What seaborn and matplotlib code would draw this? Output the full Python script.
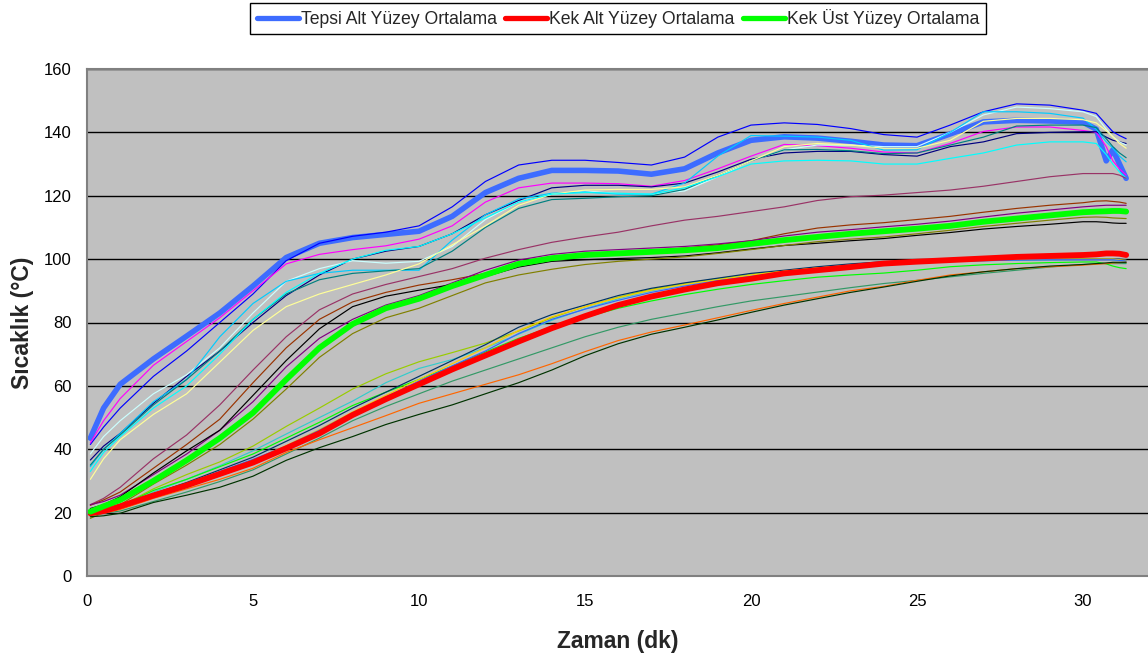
import matplotlib
matplotlib.use("Agg")
import matplotlib.pyplot as plt
import pandas as pd
import seaborn as sns
from matplotlib.lines import Line2D

# Sampling times (minutes)
minutes = [0.1, 0.5] + list(range(1, 31)) + [30.4, 30.7, 30.9, 31.1, 31.3]

# ---- Tray bottom surface (Tepsi alt yüzey) ----
tepsi_ort = [43.5, 53,
             60.5, 68.5, 75.7, 83, 91.5, 100.5, 105, 106.8, 107.8, 108.8,
             113.5, 121, 125.5, 128, 128, 127.8, 126.8, 128.5, 133.5, 137.5,
             138.6, 138.2, 137.2, 136, 135.8, 139.5, 143.3, 143.8, 143.6, 143.2,
             141, 131, 134.5, 130, 125.5]
tepsi_1 = [41.5, 47,
           53, 63, 71, 80, 89, 99.5, 105, 107.2, 108.5, 110.5,
           116.5, 124.5, 129.7, 131.2, 131.2, 130.5, 129.7, 132.2, 138.5, 142.3,
           143, 142.5, 141.2, 139.3, 138.5, 142.3, 146.5, 149, 148.6, 147,
           146, 142.5, 140.2, 139, 138]
tepsi_2 = [42, 49,
           56, 66.5, 74, 81.5, 90, 98.5, 101.5, 103, 104.2, 106.3,
           110.5, 118, 122.5, 124, 124, 123.8, 123, 124.8, 128.5, 132.5,
           136.2, 135.8, 135, 133.8, 133.5, 136.5, 140.3, 141.7, 141.7, 140.6,
           140, 135.5, 131, 128.5, 126.5]
tepsi_3 = [36.6, 41,
           45, 54.5, 63, 71, 80, 88.5, 95, 100, 102.5, 104,
           108, 114, 118.5, 122.5, 123.3, 123.3, 122.8, 124, 127.5, 131.5,
           133.5, 134, 134, 133, 132.5, 135.5, 137, 139.6, 140, 140.2,
           140.2, 138.5, 137.5, 137, 136.5]
tepsi_4 = [38.5, 44,
           49, 57.5, 63.5, 72, 83, 93, 97, 99.5, 98.7, 99.3,
           104, 112.5, 118, 120.5, 121.5, 120.7, 120.5, 121.5, 126, 131,
           134.5, 136, 136, 135.5, 135.5, 140, 145.5, 148, 147.5, 146.5,
           145, 141, 138.6, 137, 136]
tepsi_5 = [34.5, 40,
           45, 55, 62, 75.5, 86, 93, 95.5, 96.5, 96.5, 96.5,
           106, 114, 119, 120.8, 121.2, 120.5, 120.5, 124, 132.5, 139,
           138.8, 138.5, 137.5, 134.4, 134.5, 140, 146.5, 146.5, 146, 144.5,
           141, 137, 135, 132.5, 130.7]
tepsi_6 = [35, 40,
           44.5, 54, 62, 71, 81, 89, 93.5, 95.5, 96.3, 97,
           102.5, 110, 116, 118.8, 119.2, 119.7, 120, 122, 126.5, 131,
           134.5, 134.6, 134.2, 133.3, 133.5, 136, 138.5, 142, 142.3, 142.3,
           141.5, 138, 135.5, 133.5, 132]
tepsi_7 = [30.5, 37,
           43, 51, 57.5, 67.5, 77.5, 85, 89, 92, 95, 98.5,
           104.5, 110.5, 117, 120.5, 121.8, 122, 122, 122.8, 126.5, 131,
           135.5, 136.5, 136, 135, 135, 137.5, 143.5, 144.4, 144.4, 144,
           143, 140.5, 138.6, 136.5, 135]
tepsi_8 = [33, 39,
           44, 53, 60, 70, 81, 89.5, 95.5, 100, 102.8, 104,
           108, 113, 118, 120.5, 121, 120.8, 120.5, 122.5, 126, 130,
           131, 131.2, 131, 130, 130, 131.8, 133.5, 136, 137, 137,
           136.5, 133, 130, 127.5, 125.5]

# ---- Cake top surface (Kek üst yüzey) ----
kek_ust_ort = [20.3, 22,
               24, 30, 36.5, 43.5, 51.5, 62, 72, 79.5, 84.5, 87.5,
               91.5, 95, 98.5, 100.3, 101.3, 101.8, 102.3, 102.8, 103.5, 104.8,
               106, 107, 108, 108.8, 109.6, 110.5, 111.8, 112.8, 113.8, 114.8,
               115, 115.1, 115.2, 115.2, 115]
kek_ust_1 = [22.5, 24.5,
             28, 37, 44.5, 54, 65, 75.5, 84, 89, 92, 94.5,
             97, 100.3, 103, 105.3, 107, 108.5, 110.5, 112.3, 113.5, 115,
             116.5, 118.5, 119.7, 120.2, 121, 121.8, 123, 124.5, 126, 127,
             127, 127, 127, 126.5, 125.5]
kek_ust_2 = [22.3, 24,
             26.5, 34, 41.5, 49.5, 61, 72, 81, 86.5, 89.5, 91.8,
             93.5, 95.5, 98, 100, 101, 102, 102.7, 103.5, 104.5, 105.8,
             108, 109.8, 110.8, 111.5, 112.5, 113.5, 114.8, 116, 117, 117.8,
             118.3, 118.4, 118.2, 118, 117.6]
kek_ust_3 = [22.5, 23.5,
             25.5, 32, 38.5, 46, 55, 66, 75, 81, 85.5, 88.5,
             92.5, 96.5, 99.7, 101.5, 102.5, 103, 103.5, 104, 104.8, 105.8,
             107.3, 108.5, 109.3, 110.2, 111, 112, 113.3, 114.5, 115.5, 116.5,
             116.8, 117, 117, 117, 117]
kek_ust_4 = [21.3, 22.5,
             25, 32.5, 39.5, 46, 57, 68, 78, 85, 88.3, 90.2,
             92, 94.5, 97.5, 99.3, 99.8, 100.2, 100.5, 101, 102, 103.2,
             104.3, 105, 105.8, 106.5, 107.5, 108.4, 109.5, 110.3, 111, 111.8,
             111.8, 111.6, 111.4, 111.3, 111.3]
kek_ust_5 = [18.2, 20,
             22.5, 29, 35, 41.5, 49.5, 59, 69, 76.5, 81.5, 84.5,
             88.5, 92.5, 95, 96.8, 98.3, 99.3, 100, 100.7, 101.8, 103,
             104.3, 105.5, 106.3, 107, 108, 109.1, 110.3, 111.3, 112.3, 113.2,
             113.3, 113.2, 113, 112.9, 112.8]

# ---- Cake bottom surface (Kek alt yüzey) ----
kek_alt_ort = [19.8, 20.5,
               22, 25.4, 28.6, 32.2, 35.8, 40.3, 45, 50.8, 55.8, 60.5,
               65.2, 69.6, 74, 78.2, 82, 85.5, 88.2, 90.4, 92.4, 93.8,
               95.5, 96.5, 97.5, 98.6, 99.2, 99.7, 100.2, 100.7, 101, 101.3,
               101.5, 101.8, 101.8, 101.7, 101.3]
kek_alt_1 = [18.7, 20,
             22, 27.5, 32, 36, 41, 47.2, 53, 59, 63.8, 67.6,
             70.5, 73.5, 77.3, 81.5, 85, 88, 90.5, 92.3, 93.8, 95.2,
             96.3, 97.3, 98, 98.7, 99.1, 99.4, 99.6, 99.8, 99.9, 100,
             100, 100, 100, 99.8, 99.5]
kek_alt_2 = [19, 20,
             21.5, 26.5, 30.5, 34.8, 39.5, 44.8, 50, 55.2, 61, 65.5,
             68.3, 72, 76.3, 80.7, 84.3, 87.5, 90, 92, 93.5, 95,
             96, 97, 97.8, 98.5, 99, 99.3, 99.5, 99.7, 99.8, 99.9,
             99.9, 99.9, 99.8, 99.7, 99.5]
kek_alt_3 = [19.3, 20.5,
             22, 27, 30.5, 34.5, 38.5, 43.5, 48.5, 53.8, 58, 62,
             66.2, 70.7, 75, 78.6, 81.6, 84.5, 86.8, 88.8, 90.5, 92,
             93.2, 94.3, 95, 95.6, 96.5, 97.6, 98.2, 98.6, 98.9, 99.1,
             99.1, 98.5, 97.8, 97.3, 97]
kek_alt_4 = [19.5, 20.5,
             22, 26, 29.5, 33.5, 37.5, 42.5, 47.5, 53, 58, 63,
             68, 73, 78.5, 82.5, 85.5, 88.5, 90.8, 92.5, 94, 95.5,
             96.5, 97.6, 98.5, 99.2, 99.6, 99.8, 100, 100, 100, 100,
             100, 100, 100, 100, 99.8]
kek_alt_5 = [19.5, 20.3,
             21.8, 25.6, 29, 32.8, 36.5, 41.2, 46.2, 51.8, 57, 62,
             67, 72, 77.5, 81.8, 85, 87.8, 90.2, 92, 93.5, 95,
             96.2, 97.2, 98, 98.8, 99.3, 99.6, 99.8, 99.9, 100, 100,
             100, 100, 100, 99.8, 99.6]
kek_alt_6 = [19.4, 20.2,
             21.6, 25.8, 29, 33, 36.8, 41, 46, 51.5, 56.5, 61.5,
             66.3, 71, 76.5, 81, 84.2, 87, 89.5, 91.5, 93.2, 94.5,
             95.8, 96.8, 97.7, 98.5, 99, 99.3, 99.5, 99.7, 99.8, 99.8,
             99.8, 99.8, 99.8, 99.6, 99.4]
kek_alt_7 = [19.5, 19.8,
             20.5, 23.5, 26.5, 29.8, 33.5, 38.5, 43.5, 49, 53.5, 57.5,
             61.5, 65, 68.5, 72, 75.5, 78.5, 81, 83, 85, 86.8,
             88.2, 89.6, 91, 92.3, 93.3, 94.4, 95.5, 96.5, 97.5, 98.3,
             98.5, 98.6, 98.6, 98.6, 98.6]
kek_alt_8 = [19.3, 19.8,
             21, 24.5, 27.5, 30.5, 34, 39, 43, 46.8, 50.6, 54.5,
             57.5, 60.5, 63.5, 67, 70.8, 74.3, 77, 79.2, 81.5, 83.8,
             86, 88, 90, 91.4, 93.3, 95, 96, 97, 97.6, 98.1,
             98.4, 98.6, 98.8, 98.9, 99]
kek_alt_9 = [18.7, 19,
             19.8, 23.2, 25.5, 28, 31.5, 36.5, 40.5, 44, 47.8, 51,
             54, 57.5, 61, 65, 69.5, 73.3, 76.3, 78.5, 80.8, 83.2,
             85.5, 87.5, 89.5, 91.2, 93, 94.7, 96, 97, 97.8, 98.3,
             98.6, 98.8, 99, 99, 99]

thin_series = {
    "tepsi_1": (tepsi_1, "#0000FF"),
    "tepsi_2": (tepsi_2, "#FF00FF"),
    "tepsi_3": (tepsi_3, "#000080"),
    "tepsi_4": (tepsi_4, "#CCFFFF"),
    "tepsi_5": (tepsi_5, "#00CCFF"),
    "tepsi_6": (tepsi_6, "#008080"),
    "tepsi_7": (tepsi_7, "#FFFF99"),
    "tepsi_8": (tepsi_8, "#00FFFF"),
    "kek_ust_1": (kek_ust_1, "#993366"),
    "kek_ust_2": (kek_ust_2, "#993300"),
    "kek_ust_3": (kek_ust_3, "#800080"),
    "kek_ust_4": (kek_ust_4, "#000000"),
    "kek_ust_5": (kek_ust_5, "#808000"),
    "kek_alt_1": (kek_alt_1, "#99CC00"),
    "kek_alt_2": (kek_alt_2, "#33CCCC"),
    "kek_alt_3": (kek_alt_3, "#00FF00"),
    "kek_alt_4": (kek_alt_4, "#003366"),
    "kek_alt_5": (kek_alt_5, "#FFCC00"),
    "kek_alt_6": (kek_alt_6, "#3366FF"),
    "kek_alt_7": (kek_alt_7, "#339966"),
    "kek_alt_8": (kek_alt_8, "#FF6600"),
    "kek_alt_9": (kek_alt_9, "#003300"),
}
averages = [
    ("Tepsi Alt Yüzey Ortalama", tepsi_ort, "#3D6CFF"),
    ("Kek Alt Yüzey Ortalama", kek_alt_ort, "#FF0000"),
    ("Kek Üst Yüzey Ortalama", kek_ust_ort, "#00FF00"),
]

for vals, _ in thin_series.values():
    assert len(vals) == len(minutes)
for _, vals, _ in averages:
    assert len(vals) == len(minutes)

thin_df = pd.concat(
    [pd.DataFrame({"Zaman": minutes, "Sicaklik": vals, "seri": name})
     for name, (vals, _) in thin_series.items()],
    ignore_index=True)

sns.set_style("white")
plt.rcParams["font.family"] = ["Liberation Sans", "DejaVu Sans"]

W, H = 1148, 664
fig = plt.figure(figsize=(W / 100, H / 100), dpi=100)
ax = fig.add_axes([87 / W, 88 / H, 1062.4 / W, 507 / H])
ax.set_facecolor("#C0C0C0")

# Tray average sits under its individual probes; cake averages sit on top
sns.lineplot(data=pd.DataFrame({"Zaman": minutes, "Sicaklik": tepsi_ort}),
             x="Zaman", y="Sicaklik", color=averages[0][2], linewidth=4.0,
             ax=ax, legend=False, zorder=2)
sns.lineplot(data=thin_df, x="Zaman", y="Sicaklik", hue="seri",
             hue_order=list(thin_series.keys()),
             palette={k: c for k, (_, c) in thin_series.items()},
             linewidth=0.85, ax=ax, legend=False, zorder=3)
for label, vals, color in averages[1:]:
    sns.lineplot(data=pd.DataFrame({"Zaman": minutes, "Sicaklik": vals}),
                 x="Zaman", y="Sicaklik", color=color, linewidth=4.2,
                 ax=ax, legend=False, zorder=4)

ax.set_xlim(0, 32)
ax.set_ylim(0, 160)
ax.set_xticks(range(0, 31, 5))
ax.set_yticks(range(0, 161, 20))
ax.yaxis.grid(True, color="black", linewidth=1.0)
ax.xaxis.grid(False)
ax.set_axisbelow(True)
for side in ("left", "bottom", "top", "right"):
    ax.spines[side].set_color("#808080")
    ax.spines[side].set_linewidth(1.5)
    ax.spines[side].set_zorder(5)
ax.tick_params(axis="both", direction="out", length=5, width=1,
               color="black", labelsize=12, labelcolor="black")
ax.tick_params(axis="y", pad=6)
ax.tick_params(axis="x", pad=8)

ax.set_xlabel("Zaman (dk)", fontsize=16.5, fontweight="bold", va="center")
ax.set_ylabel("Sıcaklık (°C)", fontsize=16.5, fontweight="bold", va="center")
ax.xaxis.set_label_coords(0.5, -0.13)
ax.yaxis.set_label_coords(-0.061, 0.5)

handles = [Line2D([], [], color=c, linewidth=3.8) for _, _, c in averages]
labels = [lbl for lbl, _, _ in averages]
leg = fig.legend(handles, labels, loc="upper center",
                 bbox_to_anchor=(618 / W, 1 - 3 / H), ncol=3, frameon=True,
                 fancybox=False, edgecolor="black", framealpha=1,
                 fontsize=12.7, handlelength=2.4, handletextpad=0.12,
                 columnspacing=0.45, borderpad=0.35, borderaxespad=0)
leg.get_frame().set_linewidth(1.0)

fig.savefig("out.png", dpi=100)
